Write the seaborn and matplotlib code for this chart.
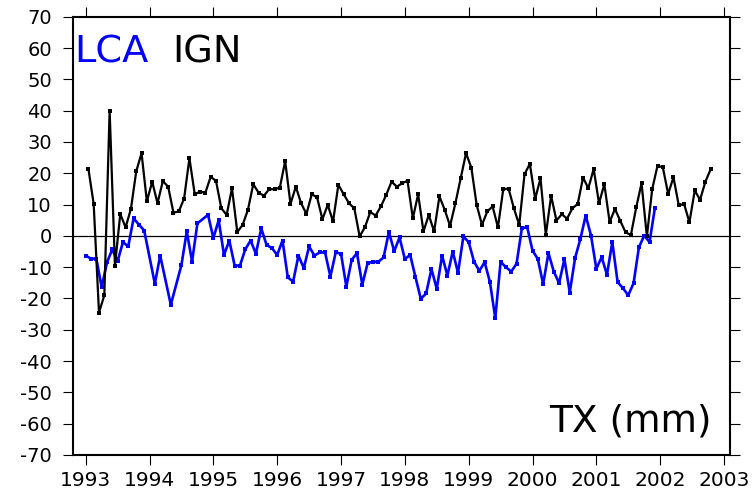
import numpy as np
import pandas as pd
import matplotlib
matplotlib.use("Agg")
import matplotlib.pyplot as plt
import seaborn as sns

# Monthly TX translation (mm): IGN solution, one value per month from Jan 1993
ign_start = 1993.0
ign_tx = [21.5, 10.2, -24.5, -19, 40, -9.5, 7, 2.7, 8.6, 20.6,
          26.4, 11, 17.3, 10.4, 17.5, 15.7, 7.4, 7.8, 11.9, 24.8,
          13.3, 14.1, 13.8, 18.9, 17.5, 8.8, 6.7, 15.2, 1.2, 3.5,
          8.3, 16.5, 13.8, 12.8, 14.9, 14.9, 15.4, 23.9, 10.2, 15.7,
          10.4, 7, 13.3, 12.3, 5.3, 9.9, 4.6, 16.3, 13.3, 10.4,
          8.8, -0.2, 2.8, 7.6, 6.5, 9.4, 13.1, 17.3, 15.7, 16.8,
          17.6, 5.6, 13.3, 1.4, 6.7, 1.4, 12.6, 8.3, 3.2, 10.4,
          18.4, 26.4, 21.8, 9.9, 3.5, 7.8, 9.4, 2.7, 14.9, 15.1,
          8.8, 3.5, 19.7, 23, 11.8, 18.4, 0.3, 12.8, 4.9, 6.9,
          5.5, 8.8, 10.2, 18.6, 15.2, 21.4, 10.4, 16.5, 4.4, 8.6,
          4.8, 1.1, 0.3, 9.1, 16.8, -0.2, 14.9, 22.4, 21.9, 13.4,
          18.7, 9.7, 10.2, 4.3, 14.5, 11.5, 17.3, 21.3]

# LCA solution: month index (from Jan 1993) and value; some months are missing
lca_month = [0, 1, 2, 3, 4, 5, 6, 7, 8, 9, 10, 11, 13, 14, 16, 18, 19, 20, 21,
             23, 24, 25, 26, 27, 28, 29, 30, 31, 32, 33, 34, 35, 36, 37, 38, 39,
             40, 41, 42, 43, 44, 45, 46, 47, 48, 49, 50, 51, 52, 53, 54, 55, 56,
             57, 58, 59, 60, 61, 62, 63, 64, 65, 66, 67, 68, 69, 70, 71, 72, 73,
             74, 75, 76, 77, 78, 79, 80, 81, 82, 83, 84, 85, 86, 87, 88, 89, 90,
             91, 92, 93, 94, 95, 96, 97, 98, 99, 100, 101, 102, 103, 104, 105,
             106, 107]
lca_tx = [-6.3, -7.3, -7.3, -16.4, -8.5, -4.3, -8.1, -2, -3.4, 5.6, 3.6, 1.7,
          -15.3, -6.3, -22, -9.3, 1.4, -8.2, 4,
          6.7, -0.7, 5, -6.1, -1.5, -9.5, -9.5, -4.3, -1.5, -5.7, 2.4, -2.9,
          -3.9, -6.1, -1.5, -13.3, -14.6,
          -6.3, -10.3, -3.4, -6.3, -5.3, -5.3, -13, -5.3, -5.7, -16.2, -7.7,
          -5.5, -15.6, -8.7, -8.3, -8.3, -6.9,
          1.2, -4.9, -0.5, -7.4, -6.1, -13.2, -20.1, -18.4, -10.6, -16.9,
          -6.3, -12.7, -5, -11.8, -0.2, -2, -8.2,
          -11.2, -8.4, -14.8, -26.3, -8.3, -10, -11.4, -8.9, 2.4, 2.8, -4.7,
          -7.4, -15.4, -5.5, -11.4, -15.1, -7.4,
          -18.1, -7.1, -1, 6.5, 0.1, -10.5, -6.8, -12.4, -2, -14.8, -16.7,
          -19, -15.1, -3.7, 0.1, -2, 8.8]

years = list(range(1993, 2004))
yticks = list(range(-70, 71, 10))

# IGN values are mid-month, LCA values start-of-month
ign = pd.DataFrame({"year": ign_start + (np.arange(len(ign_tx)) + 0.5) / 12.0,
                    "tx": ign_tx})
lca = pd.DataFrame({"year": ign_start + np.array(lca_month) / 12.0,
                    "tx": lca_tx})

sns.set_style("ticks")
plt.rcParams["font.family"] = ["DejaVu Sans"]

W, H = 756, 500
fig = plt.figure(figsize=(W / 100, H / 100), dpi=100)
left, right, top, bottom = 73, 730, 16.7, 455
ax = fig.add_axes([left / W, 1 - bottom / H, (right - left) / W, (bottom - top) / H])

ax.axhline(0, color="black", lw=0.9, zorder=1)
sns.lineplot(data=ign, x="year", y="tx", ax=ax, color="black", lw=1.6,
             marker="s", markersize=2.8, markeredgewidth=0, sort=False,
             estimator=None, zorder=3)
sns.lineplot(data=lca, x="year", y="tx", ax=ax, color="#0000ff", lw=1.9,
             marker="s", markersize=3.0, markeredgewidth=0, sort=False,
             estimator=None, zorder=2)

ax.set_xlim(1992.801, 2003.094)
ax.set_ylim(-70, 70)
ax.set_xticks(years)
ax.set_xticklabels([str(y) for y in years])
ax.set_yticks(yticks)
ax.set_yticklabels([str(v) for v in yticks])
ax.set_xlabel("")
ax.set_ylabel("")

ax.tick_params(axis="both", direction="out", length=7.2, width=0.8,
               top=True, right=True, colors="black")
ax.tick_params(axis="x", labelsize=14.5, pad=4.5)
ax.tick_params(axis="y", labelsize=14, pad=8)
for s in ax.spines.values():
    s.set_linewidth(1.5)
    s.set_color("black")

ax.text(0.002, 0.8966, "LCA", color="#0000ff", fontsize=27.5,
        transform=ax.transAxes, ha="left", va="baseline")
ax.text(0.151, 0.8966, "IGN", color="black", fontsize=27.5,
        transform=ax.transAxes, ha="left", va="baseline")
ax.text(0.9726, 0.0525, "TX (mm)", color="black", fontsize=27,
        transform=ax.transAxes, ha="right", va="baseline")

fig.savefig("out.png", dpi=100)
